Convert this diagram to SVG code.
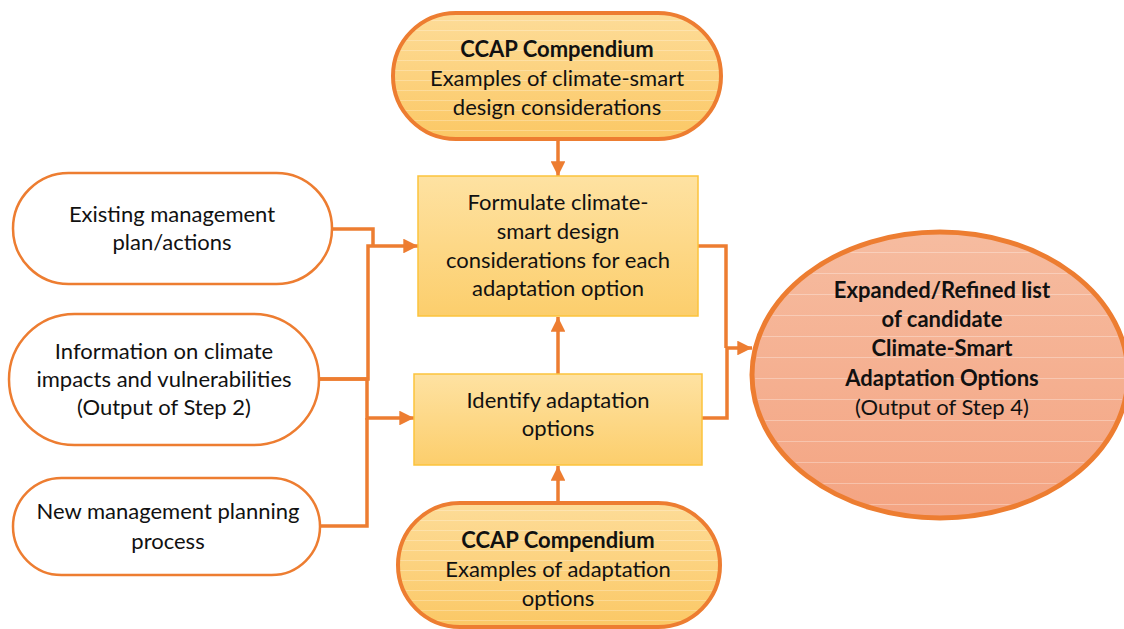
<svg xmlns="http://www.w3.org/2000/svg" width="1124" height="629" viewBox="0 0 1124 629">
  <style>
    .t { font-family: Lato, "Liberation Sans", sans-serif; font-size: 22px; fill: #111; text-anchor: middle; }
    .b { font-weight: bold; }
    .in { fill: #ffffff; stroke: #ed7d31; stroke-width: 2.5; }
    .cc { fill: url(#gPill); stroke: #ed7d31; stroke-width: 4; }
    .bx { fill: url(#gBox); stroke: #fcc33c; stroke-width: 1.5; }
    .ln { fill: none; stroke: #ed7d31; stroke-width: 3.5; }
    .ar { marker-end: url(#ah); }
  </style>
  <defs>
    <linearGradient id="gPill" x1="0" y1="0" x2="0" y2="1">
      <stop offset="0" stop-color="#fddc98"/>
      <stop offset="1" stop-color="#fbc865"/>
    </linearGradient>
    <linearGradient id="gBox" x1="0" y1="0" x2="0" y2="1">
      <stop offset="0" stop-color="#fee2a2"/>
      <stop offset="1" stop-color="#fcce6c"/>
    </linearGradient>
    <linearGradient id="gOut" x1="0" y1="0" x2="0" y2="1">
      <stop offset="0" stop-color="#f6bca0"/>
      <stop offset="1" stop-color="#f4a482"/>
    </linearGradient>
    <pattern id="stripes" width="20" height="10" patternUnits="userSpaceOnUse">
      <rect x="0" y="0" width="20" height="1" fill="#ffffff" opacity="0.25"/>
    </pattern>
    <pattern id="stripesWide" width="20" height="21" patternUnits="userSpaceOnUse">
      <rect x="0" y="0" width="20" height="1" fill="#ffffff" opacity="0.3"/>
    </pattern>
    <marker id="ah" viewBox="0 0 10 10" refX="10" refY="5" markerWidth="4.2" markerHeight="4.2" markerUnits="strokeWidth" orient="auto">
      <path d="M0,0 L10,5 L0,10 Z" fill="#ed7d31"/>
    </marker>
  </defs>

  <!-- connectors -->
  <g id="connectors">
    <path class="ln ar" d="M558 140 V176"/>
    <path class="ln ar" d="M558 374 V317"/>
    <path class="ln ar" d="M558 503 V466"/>
    <path class="ln" d="M332 229 H373 V246"/>
    <path class="ln ar" d="M320 379 H368 V246 H418"/>
    <path class="ln ar" d="M320 379 H367 V418 H414"/>
    <path class="ln" d="M321 526 H367 V418"/>
    <path class="ln" d="M698 246 H726 V348"/>
    <path class="ln ar" d="M702 418 H727 V348 H752"/>
  </g>

  <!-- inputs on the left -->
  <g id="existing">
    <rect class="in" x="13" y="173" width="319" height="111" rx="55.5"/>
    <text class="t" x="172" y="222">Existing management</text>
    <text class="t" x="172" y="250">plan/actions</text>
  </g>
  <g id="info">
    <rect class="in" x="9" y="314" width="310" height="131" rx="65.5"/>
    <text class="t" x="164" y="359">Information on climate</text>
    <text class="t" x="164" y="387">impacts and vulnerabilities</text>
    <text class="t" x="164" y="415">(Output of Step 2)</text>
  </g>
  <g id="newplan">
    <rect class="in" x="13" y="478" width="307" height="97" rx="48.5"/>
    <text class="t" x="168" y="519">New management planning</text>
    <text class="t" x="168" y="549">process</text>
  </g>

  <!-- compendium sources -->
  <g id="compendium-design">
    <rect class="cc" x="393" y="13" width="328" height="126" rx="63"/>
    <rect x="395" y="15" width="324" height="122" rx="61" fill="url(#stripes)"/>
    <text class="t b" x="557" y="57">CCAP Compendium</text>
    <text class="t" x="557" y="86">Examples of climate-smart</text>
    <text class="t" x="557" y="115">design considerations</text>
  </g>
  <g id="compendium-options">
    <rect class="cc" x="398" y="503" width="322" height="124" rx="62"/>
    <rect x="400" y="505" width="318" height="120" rx="60" fill="url(#stripes)"/>
    <text class="t b" x="558" y="548">CCAP Compendium</text>
    <text class="t" x="558" y="577">Examples of adaptation</text>
    <text class="t" x="558" y="606">options</text>
  </g>

  <!-- process steps -->
  <g id="formulate">
    <rect class="bx" x="418" y="176" width="280" height="140"/>
    <text class="t" x="558" y="210">Formulate climate-</text>
    <text class="t" x="558" y="239">smart design</text>
    <text class="t" x="558" y="268">considerations for each</text>
    <text class="t" x="558" y="296">adaptation option</text>
  </g>
  <g id="identify">
    <rect class="bx" x="414" y="374" width="288" height="91"/>
    <text class="t" x="558" y="408">Identify adaptation</text>
    <text class="t" x="558" y="436">options</text>
  </g>

  <!-- result -->
  <g id="output">
    <ellipse cx="940" cy="375" rx="188" ry="143" fill="url(#gOut)" stroke="#ed7d31" stroke-width="5"/>
    <ellipse cx="940" cy="375" rx="185" ry="140" fill="url(#stripesWide)"/>
    <text class="t b" x="942" y="298">Expanded/Refined list</text>
    <text class="t b" x="942" y="327">of candidate</text>
    <text class="t b" x="942" y="356">Climate-Smart</text>
    <text class="t b" x="942" y="386">Adaptation Options</text>
    <text class="t" x="942" y="415">(Output of Step 4)</text>
  </g>
</svg>
